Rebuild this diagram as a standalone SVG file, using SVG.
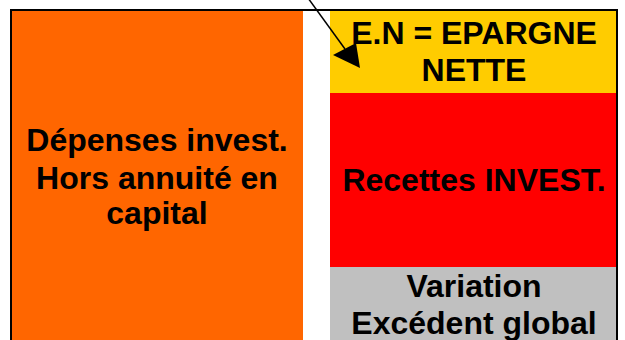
<svg xmlns="http://www.w3.org/2000/svg" width="625" height="340" viewBox="0 0 625 340">
<style>
.t{font-family:"Liberation Sans",Arial,sans-serif;font-weight:bold;font-size:32px;fill:#000;text-anchor:middle}
</style>
<rect width="625" height="340" fill="#fff"/>
<g id="frame"><rect x="11" y="10" width="606" height="340" fill="#fff" stroke="#000" stroke-width="2"/></g>
<g id="depenses">
<rect x="12" y="11" width="291" height="329" fill="#ff6600"/>
<text class="t" x="157" y="151">Dépenses invest.</text>
<text class="t" x="157" y="189">Hors annuité en</text>
<text class="t" x="157" y="224">capital</text>
</g>
<g id="epargne">
<rect x="330" y="11" width="286" height="82" fill="#ffcc00"/>
<text class="t" x="474" y="44">E.N = EPARGNE</text>
<text class="t" x="474" y="81">NETTE</text>
</g>
<g id="recettes">
<rect x="330" y="93" width="286" height="174" fill="#ff0000"/>
<text class="t" x="474" y="191">Recettes INVEST.</text>
</g>
<g id="variation">
<rect x="330" y="267" width="286" height="73" fill="#c0c0c0"/>
<text class="t" x="474" y="297">Variation</text>
<text class="t" x="474" y="334">Excédent global</text>
</g>
<g id="connectors">
<line x1="308" y1="-2" x2="345" y2="49" stroke="#000" stroke-width="1.5"/>
<polygon points="333,55 356,43 360,68" fill="#000"/>
</g>
</svg>
